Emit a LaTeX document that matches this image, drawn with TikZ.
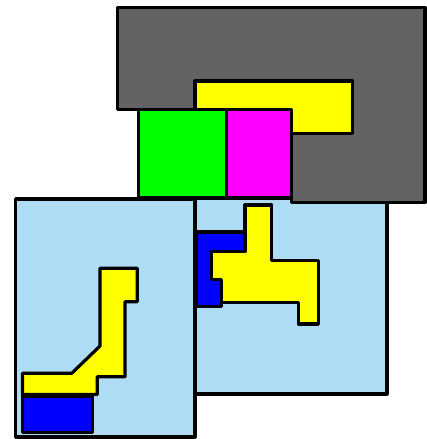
\documentclass[tikz,border=0pt]{standalone}
\definecolor{darkgrayfill}{RGB}{99,99,101}
\definecolor{lightbluefill}{RGB}{174,220,244}
\definecolor{pureyellow}{RGB}{255,255,0}
\definecolor{puregreen}{RGB}{0,255,0}
\definecolor{puremagenta}{RGB}{255,0,255}
\definecolor{pureblue}{RGB}{0,0,255}
\tikzset{
  piece/.style={draw=black, line width=3.2pt, line join=round},
  grayp/.style={piece, fill=darkgrayfill},
  bluebox/.style={piece, fill=lightbluefill},
  yellowp/.style={piece, fill=pureyellow},
  greenp/.style={piece, fill=puregreen},
  magentap/.style={piece, fill=puremagenta},
  bluep/.style={piece, fill=pureblue}
}
\begin{document}
\begin{tikzpicture}[x=1pt,y=-1pt]
\useasboundingbox (0,0) rectangle (427,439);
% light blue boxes
\draw[bluebox] (195,198) rectangle (387,394);
\draw[bluebox] (15.7,199) rectangle (195,437);
% gray region
\draw[grayp] (117.5,7.5) -- (425,7.5) -- (425,202.5) -- (291.5,202.5) -- (291.5,109.5) -- (117.5,109.5) -- cycle;
% top yellow
\draw[yellowp] (195,81) -- (352.7,81) -- (352.7,133.3) -- (291.5,133.3) -- (291.5,109.5) -- (195,109.5) -- cycle;
% green and magenta
\draw[greenp] (138.3,109.5) rectangle (226.3,198);
\draw[puremagenta, piece, fill=puremagenta] (226.3,109.5) rectangle (291.5,198);
% right box: blue then yellow
\draw[bluep] (196,232) -- (245,232) -- (245,279.3) -- (221.7,279.3) -- (221.7,306.7) -- (196,306.7) -- cycle;
\draw[yellowp] (245,205) -- (271.7,205) -- (271.7,260.7) -- (318.3,260.7) -- (318.3,324) -- (298.3,324) -- (298.3,302.7) -- (221.7,302.7) -- (221.7,279.3) -- (211.7,279.3) -- (211.7,251.7) -- (245,251.7) -- cycle;
% left box: yellow then blue
\draw[yellowp] (100,268.3) -- (137.3,268.3) -- (137.3,301.7) -- (125,301.7) -- (125,376.7) -- (97.3,376.7) -- (97.3,394.5) -- (22.5,394.5) -- (22.5,373.3) -- (71.7,373.3) -- (100,346) -- cycle;
\draw[bluep] (22.3,396) rectangle (92.7,432.3);
\end{tikzpicture}
\end{document}
